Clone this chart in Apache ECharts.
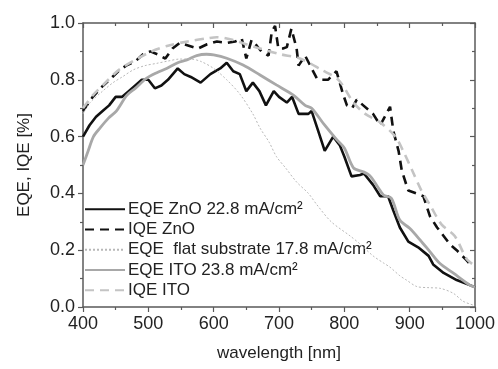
<!DOCTYPE html>
<html>
<head>
<meta charset="utf-8">
<script src="https://cdn.jsdelivr.net/npm/echarts@6/dist/echarts.min.js"></script>
<style>html,body{margin:0;padding:0;background:#fff}#c{width:498px;height:369px}</style>
</head>
<body>
<div id="c"></div>
<script>
var xTicks = [400, 500, 600, 700, 800, 900, 1000];
var yTicks = [0.0, 0.2, 0.4, 0.6, 0.8, 1.0];

var seriesNames = ['EQE ZnO 22.8 mA/cm\u00B2', 'IQE ZnO', 'EQE  flat substrate 17.8 mA/cm\u00B2', 'EQE ITO 23.8 mA/cm\u00B2', 'IQE ITO'];

var eqeZnoWl  = [400,410,420,430,440,450,460,470,480,490,500,510,520,530,545,555,565,580,595,610,620,630,640,650,660,670,680,692,700,712,720,730,745,750,760,770,783,793,800,811,824,830,844,855,867,875,885,898,913,929,936,952,972,992,1000];
var eqeZnoVal = [0.60,0.64,0.67,0.69,0.71,0.74,0.74,0.76,0.78,0.80,0.80,0.77,0.78,0.80,0.84,0.82,0.81,0.79,0.82,0.84,0.86,0.83,0.82,0.76,0.79,0.76,0.71,0.76,0.74,0.72,0.74,0.68,0.68,0.69,0.62,0.55,0.60,0.57,0.53,0.46,0.465,0.47,0.43,0.39,0.39,0.34,0.28,0.23,0.21,0.18,0.15,0.12,0.095,0.077,0.07];

var iqeZnoWl  = [400,415,431,445,454,466,480,492,503,514,526,537,548,562,576,590,605,620,633,643,650,658,666,673,684,689,694,699,706,712,719,727,730,740,750,758,766,775,788,798,804,812,819,829,844,855,862,870,875,883,888,895,898,910,921,931,942,952,962,972,987,993];
var iqeZnoVal = [0.69,0.74,0.78,0.81,0.83,0.85,0.865,0.89,0.90,0.89,0.875,0.91,0.93,0.92,0.91,0.925,0.935,0.93,0.935,0.945,0.875,0.94,0.92,0.90,0.885,0.97,0.99,0.91,0.91,0.915,0.98,0.91,0.85,0.885,0.84,0.805,0.80,0.80,0.83,0.75,0.71,0.70,0.73,0.71,0.68,0.64,0.67,0.705,0.62,0.55,0.48,0.43,0.41,0.40,0.39,0.32,0.28,0.25,0.22,0.20,0.165,0.15];

var flatWl  = [400,411,430,446,460,477,495,513,530,548,565,580,600,620,640,660,671,685,696,710,727,745,758,780,809,825,844,860,870,885,895,911,930,946,967,982,1000];
var flatVal = [0.68,0.72,0.76,0.79,0.81,0.835,0.85,0.858,0.866,0.873,0.873,0.865,0.84,0.80,0.75,0.68,0.63,0.58,0.53,0.49,0.44,0.40,0.36,0.30,0.25,0.22,0.18,0.155,0.14,0.11,0.095,0.072,0.068,0.066,0.048,0.02,0.005];

var eqeItoWl  = [400,408,416,426,439,451,467,480,497,513,528,545,559,574,589,600,620,645,671,696,722,740,750,770,788,800,814,829,840,852,860,872,885,900,916,931,946,967,992,1000];
var eqeItoVal = [0.50,0.55,0.60,0.63,0.665,0.69,0.745,0.77,0.805,0.825,0.84,0.86,0.87,0.885,0.89,0.888,0.876,0.852,0.817,0.782,0.746,0.71,0.70,0.64,0.59,0.56,0.49,0.476,0.46,0.42,0.394,0.383,0.306,0.277,0.236,0.195,0.154,0.119,0.077,0.07];

var iqeItoWl  = [400,415,430,455,480,505,530,560,590,605,630,650,671,702,732,765,791,814,832,855,878,890,906,918,931,949,969,987,998];
var iqeItoVal = [0.70,0.745,0.78,0.835,0.87,0.90,0.92,0.935,0.946,0.95,0.94,0.925,0.91,0.89,0.875,0.835,0.80,0.72,0.68,0.65,0.60,0.55,0.47,0.41,0.36,0.29,0.25,0.17,0.148];

function pairs(xs, ys) { return xs.map(function (x, i) { return [x, ys[i]]; }); }

var FONT = '"Liberation Sans", Arial, sans-serif';
var axisColor = '#5a5a5a';
var textColor = '#222';

var styles = [
  { color: '#111111', width: 2.6, type: 'solid' },
  { color: '#111111', width: 2.6, type: [9, 6] },
  { color: '#b8b8b8', width: 1, type: [2, 2] },
  { color: '#a8a8a8', width: 2.8, type: 'solid' },
  { color: '#c4c4c4', width: 2.6, type: [9, 6] }
];
var dataSets = [
  pairs(eqeZnoWl, eqeZnoVal),
  pairs(iqeZnoWl, iqeZnoVal),
  pairs(flatWl, flatVal),
  pairs(eqeItoWl, eqeItoVal),
  pairs(iqeItoWl, iqeItoVal)
];
var drawOrder = [2, 4, 3, 1, 0];

var series = drawOrder.map(function (i) {
  return {
    name: seriesNames[i],
    type: 'line',
    data: dataSets[i],
    showSymbol: false,
    symbol: 'none',
    smooth: (i === 2 || i === 3 || i === 4) ? 0.3 : false,
    color: styles[i].color,
    lineStyle: { color: styles[i].color, width: styles[i].width, type: styles[i].type },
    silent: true,
    animation: false,
    z: 2 + (4 - drawOrder.indexOf(i))
  };
});

var legendCenters = [210.7, 230.9, 251.2, 271.5, 291.8];
var legends = seriesNames.map(function (n, i) {
  return {
    data: [n],
    left: 84,
    top: legendCenters[i] - 10,
    orient: 'vertical',
    itemWidth: 40,
    itemHeight: 20,
    itemGap: 0,
    selectedMode: false,
    itemStyle: { opacity: 0 },
    lineStyle: { inactiveColor: styles[i].color },
    textStyle: { fontFamily: FONT, fontSize: 17, color: textColor, padding: [0, 0, 0, -2] },
    padding: 0
  };
});

var chart = echarts.init(document.getElementById('c'), null, { renderer: 'canvas' });
chart.setOption({
  backgroundColor: '#fff',
  animation: false,
  grid: { left: 83, right: 23, top: 23, bottom: 62, containLabel: false },
  legend: legends,
  xAxis: [
    {
      type: 'value', min: xTicks[0], max: xTicks[xTicks.length - 1], interval: 100, position: 'bottom',
      name: 'wavelength [nm]', nameLocation: 'middle', nameGap: 38,
      nameTextStyle: { fontFamily: FONT, fontSize: 17, color: textColor },
      axisLine: { show: true, onZero: false, lineStyle: { color: axisColor, width: 1.5 } },
      axisTick: { show: true, inside: false, length: 5, lineStyle: { color: axisColor, width: 1.2 } },
      minorTick: { show: true, splitNumber: 2, length: 3, lineStyle: { color: axisColor, width: 1.2 } },
      axisLabel: { fontFamily: FONT, fontSize: 18, color: textColor, margin: 8,
        formatter: function (v) { return String(v); } },
      splitLine: { show: false }
    },
    {
      type: 'value', min: xTicks[0], max: xTicks[xTicks.length - 1], interval: 100, position: 'top',
      axisLine: { show: true, onZero: false, lineStyle: { color: axisColor, width: 1.5 } },
      axisTick: { show: true, inside: true, length: 5, lineStyle: { color: axisColor, width: 1.2 } },
      minorTick: { show: true, splitNumber: 2, length: 3, lineStyle: { color: axisColor, width: 1.2 } },
      axisLabel: { show: false },
      splitLine: { show: false }
    }
  ],
  yAxis: [
    {
      type: 'value', min: yTicks[0], max: yTicks[yTicks.length - 1], interval: 0.2, position: 'left',
      name: 'EQE, IQE [%]', nameLocation: 'middle', nameGap: 50, nameRotate: 90,
      nameTextStyle: { fontFamily: FONT, fontSize: 17, color: textColor },
      axisLine: { show: true, onZero: false, lineStyle: { color: axisColor, width: 1.5 } },
      axisTick: { show: true, inside: false, length: 5, lineStyle: { color: axisColor, width: 1.2 } },
      minorTick: { show: true, splitNumber: 2, length: 3, lineStyle: { color: axisColor, width: 1.2 } },
      axisLabel: { fontFamily: FONT, fontSize: 18, color: textColor, margin: 8,
        formatter: function (v) { return v.toFixed(1); } },
      splitLine: { show: false }
    },
    {
      type: 'value', min: yTicks[0], max: yTicks[yTicks.length - 1], interval: 0.2, position: 'right',
      axisLine: { show: true, onZero: false, lineStyle: { color: axisColor, width: 1.5 } },
      axisTick: { show: true, inside: true, length: 5, lineStyle: { color: axisColor, width: 1.2 } },
      minorTick: { show: true, splitNumber: 2, length: 3, lineStyle: { color: axisColor, width: 1.2 } },
      axisLabel: { show: false },
      splitLine: { show: false }
    }
  ],
  series: series
});
</script>
</body>
</html>
